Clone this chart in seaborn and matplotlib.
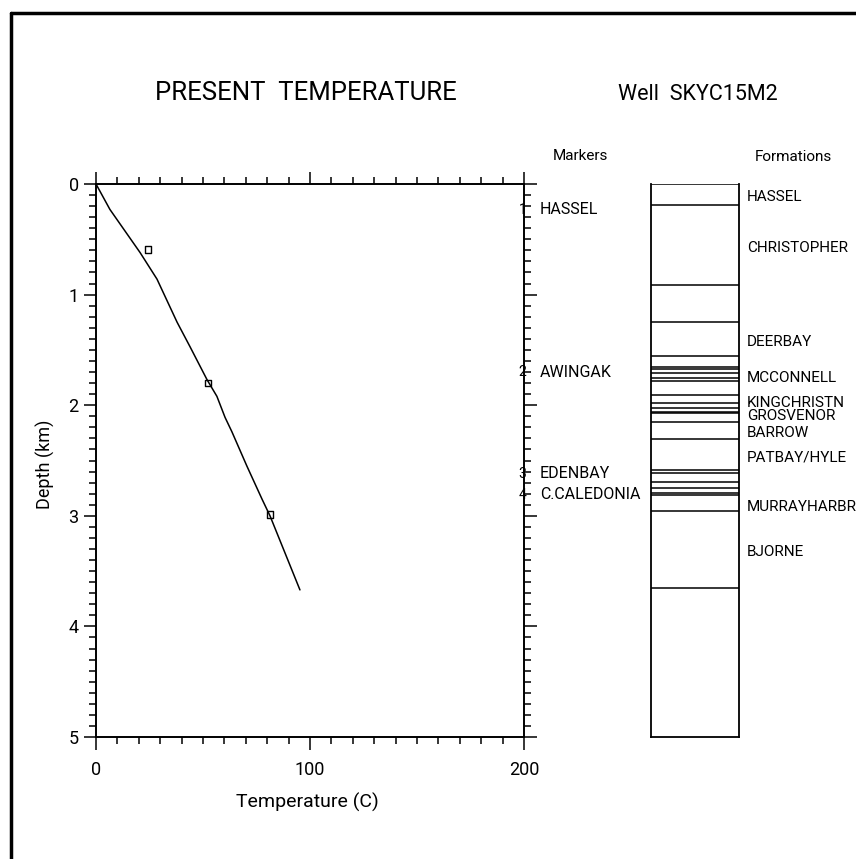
import matplotlib
matplotlib.use("Agg")
import matplotlib.pyplot as plt
import seaborn as sns
import pandas as pd
from matplotlib.lines import Line2D

depth_km = [0.0, 0.23, 0.62, 0.86, 1.25, 1.47, 1.77, 1.92, 2.11, 2.24, 2.55, 2.85, 3.0, 3.67]
temp_c = [0.0, 6.5, 20.6, 28.5, 37.9, 43.9, 51.9, 56.5, 60.3, 63.5, 70.5, 77.6, 81.3, 95.3]

# measured temperatures
obs_depth = [0.59, 1.80, 2.99]
obs_temp = [24.3, 52.3, 81.3]

# markers
marker_names = ["HASSEL", "AWINGAK", "EDENBAY", "C.CALEDONIA"]
marker_depth = [0.235, 1.70, 2.62, 2.81]

# formation column
boundaries = [0.0, 0.187, 0.913, 1.248, 1.555, 1.655, 1.675, 1.706, 1.757, 1.778,
              1.908, 1.983, 2.028, 2.059, 2.073, 2.149, 2.306, 2.586, 2.61, 2.697,
              2.751, 2.791, 2.812, 2.954, 3.656]
formation_names = ["HASSEL", "CHRISTOPHER", "DEERBAY", "MCCONNELL", "KINGCHRISTN",
                   "GROSVENOR", "BARROW", "PATBAY/HYLE", "MURRAYHARBR", "BJORNE"]
formation_label_depth = [0.115, 0.58, 1.425, 1.755, 1.977, 2.10, 2.25, 2.47, 2.92, 3.33]

sns.set_style("ticks")
plt.rcParams["font.family"] = ["Roboto", "DejaVu Sans"]
plt.rcParams["text.color"] = "black"
plt.rcParams["axes.labelcolor"] = "black"
plt.rcParams["xtick.color"] = "black"
plt.rcParams["ytick.color"] = "black"

fig = plt.figure(figsize=(8.56, 8.59), dpi=100)
ax = fig.add_axes([96 / 856, 1 - 737 / 859, 428 / 856, 553 / 859])

prof = pd.DataFrame({"temp": temp_c, "depth": depth_km})
sns.lineplot(data=prof, x="temp", y="depth", sort=False, color="black", lw=1.1, ax=ax)
obs = pd.DataFrame({"temp": obs_temp, "depth": obs_depth})
sns.scatterplot(data=obs, x="temp", y="depth", marker="s", s=22, facecolor="none",
                edgecolor="black", linewidth=1.0, ax=ax)

ax.set_xlim(0, 200)
ax.set_ylim(5, 0)
ax.set_xticks([0, 100, 200])
ax.set_xticks(range(0, 201, 10), minor=True)
ax.set_yticks([0, 1, 2, 3, 4, 5])
ax.set_yticks([i / 10 for i in range(51)], minor=True)
ax.tick_params(which="both", direction="out", top=True, right=True, width=1.1,
               labelsize=13)
ax.tick_params(which="major", length=9)
ax.tick_params(which="minor", length=5)
ax.tick_params(axis="x", which="major", pad=8)
for s in ax.spines.values():
    s.set_linewidth(1.4)
    s.set_color("black")
ax.set_xlabel("Temperature (C)", fontsize=14)
ax.xaxis.set_label_coords((307 - 96) / 428, -(793 - 737) / 553)
ax.set_ylabel("Depth (km)", fontsize=13)
ax.yaxis.set_label_coords((55 - 96) / 428, 1 - (464 - 184) / 553)

tr = ax.get_yaxis_transform()
for i, (name, d) in enumerate(zip(marker_names, marker_depth)):
    ax.text(0.996, d, str(i + 1), transform=tr, ha="center", va="center",
            fontsize=10, clip_on=False)
    ax.text((540 - 96) / 428, d, name, transform=tr, ha="left", va="center",
            fontsize=11.5, clip_on=False)

# formation column
cax = fig.add_axes([651 / 856, 1 - 737 / 859, 88 / 856, 553 / 859])
cax.set_xlim(0, 1)
cax.set_ylim(5, 0)
cax.hlines(boundaries, 0, 1, color="black", lw=1.1)
cax.set_xticks([])
cax.set_yticks([])
cax.spines["top"].set_visible(False)
for s in ["left", "right", "bottom"]:
    cax.spines[s].set_linewidth(1.3)
    cax.spines[s].set_color("black")
ctr = cax.get_yaxis_transform()
for name, d in zip(formation_names, formation_label_depth):
    cax.text((747 - 651) / 88, d, name, transform=ctr, ha="left", va="center",
             fontsize=11, clip_on=False)

fig.text(306 / 856, 1 - 93 / 859, "PRESENT  TEMPERATURE", ha="center", va="center",
         fontsize=18.5)
fig.text(698 / 856, 1 - 95 / 859, "Well  SKYC15M2", ha="center", va="center",
         fontsize=15.5)
fig.text(580 / 856, 1 - 156 / 859, "Markers", ha="center", va="center", fontsize=11)
fig.text(793 / 856, 1 - 157 / 859, "Formations", ha="center", va="center", fontsize=11)

# page frame
fig.add_artist(Line2D([11 / 856, 11 / 856], [0, 1 - 13 / 859], transform=fig.transFigure,
                      color="black", lw=2.5))
fig.add_artist(Line2D([11 / 856, 1], [1 - 13 / 859, 1 - 13 / 859], transform=fig.transFigure,
                      color="black", lw=2.5))

fig.savefig("out.png", dpi=100)
